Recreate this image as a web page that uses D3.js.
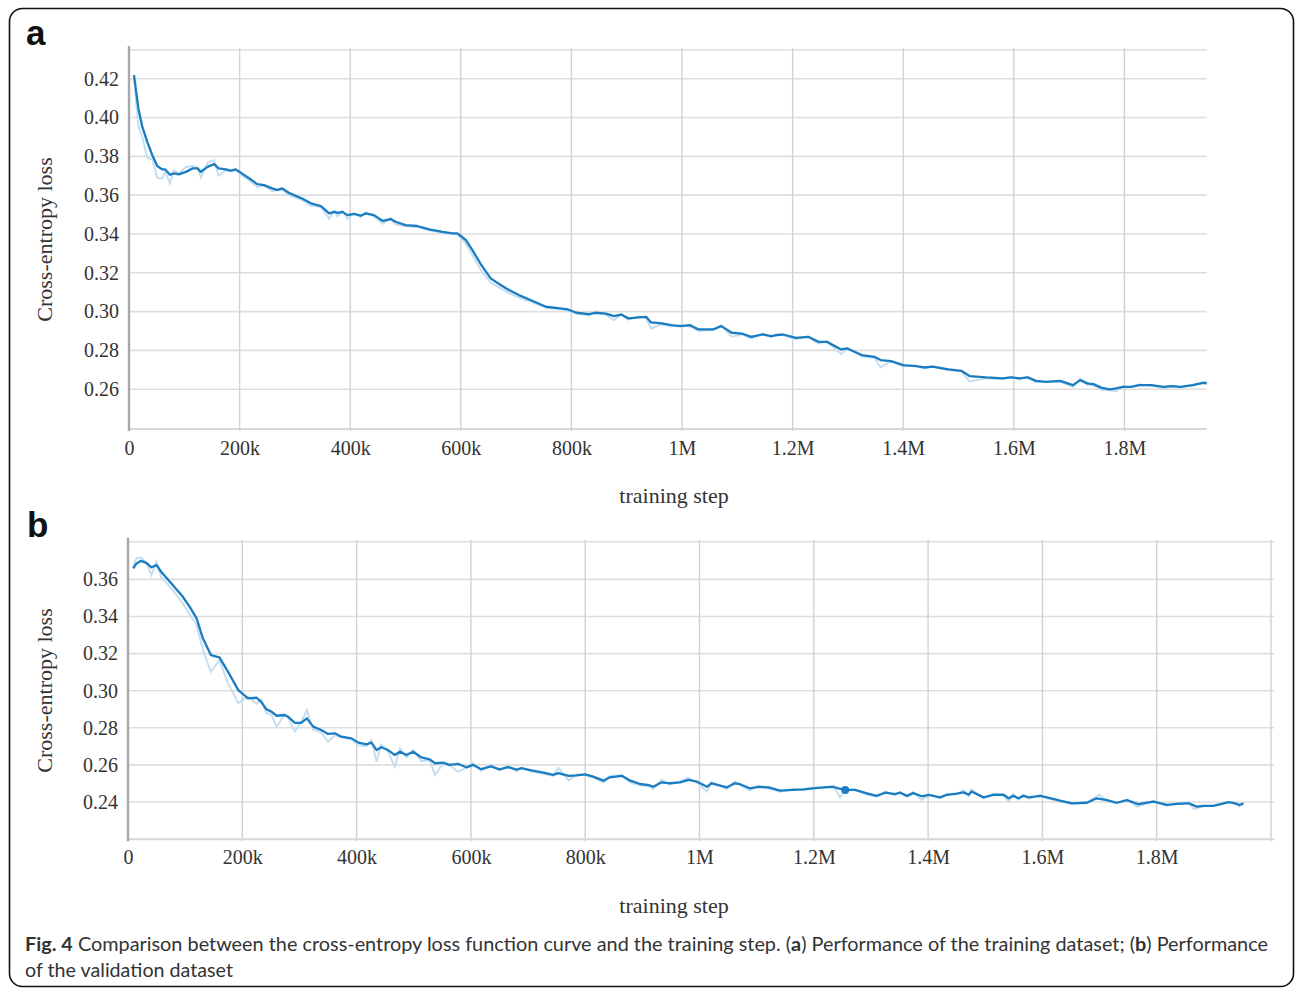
<!DOCTYPE html>
<html>
<head>
<meta charset="utf-8">
<script src="https://cdn.jsdelivr.net/npm/d3@7"></script>
<style>
body { margin: 0; background: #fff; }
svg text { font-family: "Liberation Serif", "Times New Roman", serif; fill: #333; }
.hgrid line { stroke: #dedede; stroke-width: 1.6; }
.vgrid line { stroke: #d2d2d2; stroke-width: 1.4; }
.tick text { font-size: 20px; }
.axis path, .axis line { display: none; }
.raw { fill: none; stroke: #c3ddf1; stroke-width: 1.9; }
.smooth { fill: none; stroke: #1b7dc1; stroke-width: 2.3; stroke-linejoin: round; }
.caption { font-family: "Lato", "Liberation Sans", sans-serif; font-size: 19px; fill: #333; }
</style>
</head>
<body>
<svg width="1295" height="989"></svg>
<script>
// training step in thousands, cross-entropy loss

const xTicks = [0, 200, 400, 600, 800, 1000, 1200, 1400, 1600, 1800];
const yTicksA = [0.26, 0.28, 0.30, 0.32, 0.34, 0.36, 0.38, 0.40, 0.42];
const yTicksB = [0.24, 0.26, 0.28, 0.30, 0.32, 0.34, 0.36];

// panel a: training dataset (smoothed curve)
const smoothA = [
[9,0.4219],[17,0.4047],[24,0.3953],[33,0.3875],[42,0.3807],[51,0.3750],[60,0.3733],[65,0.3733],[74,0.3705],[81,0.3712],[90,0.3707],[103,0.3720],[115,0.3738],[124,0.3738],[130,0.3720],[142,0.3746],[154,0.3760],[162,0.3738],[175,0.3733],[184,0.3726],[193,0.3733],[202,0.3716],[217,0.3687],[232,0.3657],[244,0.3652],[259,0.3635],[268,0.3626],[277,0.3635],[289,0.3612],[313,0.3583],[329,0.3558],[347,0.3544],[362,0.3506],[371,0.3514],[377,0.3509],[386,0.3514],[395,0.3497],[407,0.3503],[419,0.3494],[428,0.3506],[443,0.3497],[459,0.3467],[473,0.3477],[482,0.3463],[500,0.3446],[521,0.3441],[543,0.3424],[567,0.3411],[585,0.3403],[594,0.3403],[609,0.3369],[621,0.3317],[636,0.3245],[654,0.3171],[672,0.3137],[687,0.3111],[705,0.3085],[729,0.3056],[754,0.3025],[779,0.3017],
[794,0.3011],[809,0.2994],[832,0.2987],[843,0.2994],[862,0.2990],[877,0.2977],[890,0.2985],[903,0.2965],[922,0.2970],[935,0.2973],[944,0.2944],[963,0.2939],[981,0.2930],[996,0.2925],[1015,0.2930],[1030,0.2908],[1056,0.2908],[1071,0.2925],[1090,0.2891],[1108,0.2887],[1125,0.2870],[1146,0.2882],[1161,0.2874],[1172,0.2879],[1183,0.2882],[1206,0.2865],[1228,0.2870],[1247,0.2844],[1262,0.2844],[1288,0.2805],[1299,0.2810],[1325,0.2776],[1348,0.2767],[1359,0.2750],[1378,0.2745],[1400,0.2724],[1423,0.2719],[1438,0.2712],[1453,0.2716],[1482,0.2702],[1505,0.2695],[1520,0.2668],[1550,0.2661],[1580,0.2656],[1595,0.2661],[1610,0.2656],[1625,0.2661],[1640,0.2643],[1658,0.2638],[1684,0.2643],[1707,0.2621],[1720,0.2647],[1733,0.2630],[1744,0.2626],[1759,0.2607],[1774,0.2599],[1785,0.2604],[1797,0.2612],[1812,0.2612],[1827,0.2621],[1849,0.2621],[1871,0.2612],[1886,0.2616],[1901,0.2612],[1924,0.2621],[1942,0.2633],[1949,0.2630]
];

// panel a: raw values (faint curve)
const rawA = [
[9,0.4200],[17,0.3953],[24,0.3900],[33,0.3790],[42,0.3785],[51,0.3690],[60,0.3685],[65,0.3725],[74,0.3660],[81,0.3728],[90,0.3712],[103,0.3745],[115,0.3750],[124,0.3742],[130,0.3690],[142,0.3768],[154,0.3780],[162,0.3700],[175,0.3728],[184,0.3722],[193,0.3730],[202,0.3705],[217,0.3678],[232,0.3642],[244,0.3650],[259,0.3620],[268,0.3630],[277,0.3628],[289,0.3600],[313,0.3575],[329,0.3545],[347,0.3540],[362,0.3478],[371,0.3520],[377,0.3490],[386,0.3518],[395,0.3478],[407,0.3505],[419,0.3488],[428,0.3510],[443,0.3490],[459,0.3452],[473,0.3482],[482,0.3450],[500,0.3440],[521,0.3436],[543,0.3418],[567,0.3406],[585,0.3400],[594,0.3398],[609,0.3350],[621,0.3290],[636,0.3215],[654,0.3150],[672,0.3120],[687,0.3095],[705,0.3072],[729,0.3048],[754,0.3020],[779,0.3012],
[794,0.3005],[809,0.2990],[832,0.2980],[843,0.2998],[862,0.2985],[877,0.2955],[890,0.2988],[903,0.2958],[922,0.2975],[935,0.2968],[944,0.2912],[963,0.2935],[981,0.2924],[996,0.2930],[1015,0.2922],[1030,0.2900],[1056,0.2905],[1071,0.2930],[1090,0.2870],[1108,0.2882],[1125,0.2862],[1146,0.2886],[1161,0.2868],[1172,0.2884],[1183,0.2878],[1206,0.2858],[1228,0.2872],[1247,0.2835],[1262,0.2848],[1288,0.2780],[1299,0.2812],[1325,0.2770],[1348,0.2762],[1359,0.2712],[1378,0.2745],[1400,0.2718],[1423,0.2722],[1438,0.2705],[1453,0.2718],[1482,0.2698],[1505,0.2692],[1520,0.2640],[1550,0.2656],[1580,0.2652],[1595,0.2664],[1610,0.2650],[1625,0.2665],[1640,0.2636],[1658,0.2640],[1684,0.2638],[1707,0.2612],[1720,0.2655],[1733,0.2622],[1744,0.2620],[1759,0.2596],[1774,0.2594],[1785,0.2590],[1797,0.2615],[1812,0.2610],[1827,0.2625],[1849,0.2618],[1871,0.2605],[1886,0.2618],[1901,0.2608],[1924,0.2624],[1942,0.2636],[1949,0.2640]
];

// panel b: validation dataset (smoothed curve)
const smoothB = [
[9,0.3659],[15,0.3686],[23,0.3700],[32,0.3689],[41,0.3665],[50,0.3677],[58,0.3641],[76,0.3578],[96,0.3506],[108,0.3452],[120,0.3390],[131,0.3282],[145,0.3192],[160,0.3180],[175,0.3102],[193,0.3003],[210,0.2959],[225,0.2962],[233,0.2940],[242,0.2900],[251,0.2887],[260,0.2865],[274,0.2869],[280,0.2860],[292,0.2827],[303,0.2827],[313,0.2851],[324,0.2806],[338,0.2788],[350,0.2767],[362,0.2770],[373,0.2752],[391,0.2743],[403,0.2720],[417,0.2711],[426,0.2720],[435,0.2680],[443,0.2695],[455,0.2680],[467,0.2653],[476,0.2671],[487,0.2653],[499,0.2671],[513,0.2641],[528,0.2630],[537,0.2609],[551,0.2612],[563,0.2600],[578,0.2605],[592,0.2587],[604,0.2600],[618,0.2577],[635,0.2592],[650,0.2576],[665,0.2588],[680,0.2575],[688,0.2582],[706,0.2570],
[727,0.2558],[744,0.2546],[753,0.2556],[771,0.2541],[785,0.2544],[800,0.2549],[814,0.2537],[832,0.2515],[843,0.2533],[864,0.2541],[879,0.2515],[896,0.2497],[911,0.2491],[919,0.2482],[934,0.2506],[948,0.2501],[966,0.2506],[981,0.2519],[995,0.2510],[1013,0.2482],[1021,0.2501],[1048,0.2479],[1062,0.2501],[1071,0.2496],[1088,0.2474],[1103,0.2482],[1121,0.2479],[1141,0.2461],[1164,0.2465],[1182,0.2468],[1199,0.2474],[1217,0.2479],[1234,0.2482],[1243,0.2474],[1255,0.2465],[1272,0.2465],[1293,0.2447],[1310,0.2433],[1325,0.2450],[1342,0.2443],[1351,0.2450],[1363,0.2433],[1374,0.2448],[1389,0.2431],[1401,0.2439],[1421,0.2425],[1433,0.2439],[1450,0.2445],[1462,0.2452],[1471,0.2439],[1476,0.2457],[1497,0.2425],[1514,0.2439],[1532,0.2439],[1541,0.2420],[1549,0.2433],[1558,0.2420],[1567,0.2433],[1576,0.2425],[1596,0.2433],[1608,0.2425],[1631,0.2407],[1652,0.2393],[1678,0.2396],[1695,0.2420],[1713,0.2410],[1730,0.2396],[1748,0.2410],[1768,0.2388],[1794,0.2402],[1818,0.2384],[1835,0.2390],[1856,0.2393],[1870,0.2375],[1882,0.2379],[1899,0.2379],[1914,0.2390],[1926,0.2399],[1937,0.2393],[1945,0.2384],[1952,0.2393]
];

// panel b: raw values (faint curve)
const rawB = [
[9,0.3670],[15,0.3714],[23,0.3718],[32,0.3690],[41,0.3623],[50,0.3695],[58,0.3614],[76,0.3550],[96,0.3470],[108,0.3408],[120,0.3354],[131,0.3219],[145,0.3102],[160,0.3165],[175,0.3040],[193,0.2933],[210,0.2969],[225,0.2930],[233,0.2955],[242,0.2880],[251,0.2870],[260,0.2806],[274,0.2870],[280,0.2855],[292,0.2779],[303,0.2830],[313,0.2896],[324,0.2790],[338,0.2775],[350,0.2725],[362,0.2760],[373,0.2749],[391,0.2738],[403,0.2705],[417,0.2700],[426,0.2735],[435,0.2617],[443,0.2710],[455,0.2670],[467,0.2590],[476,0.2690],[487,0.2640],[499,0.2680],[513,0.2620],[528,0.2625],[537,0.2546],[551,0.2605],[563,0.2595],[578,0.2563],[592,0.2585],[604,0.2610],[618,0.2568],[635,0.2600],[650,0.2570],[665,0.2595],[680,0.2565],[688,0.2585],[706,0.2562],
[727,0.2552],[744,0.2540],[753,0.2585],[771,0.2515],[785,0.2548],[800,0.2545],[814,0.2532],[832,0.2505],[843,0.2540],[864,0.2545],[879,0.2505],[896,0.2490],[911,0.2485],[919,0.2470],[934,0.2520],[948,0.2495],[966,0.2512],[981,0.2530],[995,0.2505],[1013,0.2456],[1021,0.2508],[1048,0.2470],[1062,0.2512],[1071,0.2490],[1088,0.2462],[1103,0.2488],[1121,0.2472],[1141,0.2455],[1164,0.2470],[1182,0.2465],[1199,0.2480],[1217,0.2476],[1234,0.2488],[1246,0.2425],[1255,0.2462],[1272,0.2468],[1293,0.2440],[1310,0.2428],[1325,0.2458],[1342,0.2438],[1351,0.2455],[1363,0.2428],[1374,0.2455],[1389,0.2410],[1401,0.2442],[1421,0.2420],[1433,0.2445],[1450,0.2440],[1462,0.2465],[1471,0.2432],[1476,0.2468],[1497,0.2420],[1514,0.2442],[1532,0.2435],[1541,0.2402],[1549,0.2445],[1558,0.2412],[1567,0.2440],[1576,0.2418],[1596,0.2438],[1608,0.2420],[1631,0.2402],[1652,0.2390],[1678,0.2398],[1700,0.2439],[1713,0.2405],[1730,0.2392],[1748,0.2412],[1766,0.2375],[1794,0.2405],[1818,0.2380],[1835,0.2392],[1856,0.2395],[1865,0.2361],[1882,0.2376],[1899,0.2382],[1914,0.2392],[1926,0.2402],[1937,0.2396],[1945,0.2375],[1952,0.2395]
];

// highlighted point in panel b
const markB = [[1255, 0.2465]];

var svg = d3.select("svg");

// outer frame
svg.append("rect")
   .attr("x", 9.5).attr("y", 8.5).attr("width", 1284).attr("height", 978)
   .attr("rx", 13).attr("fill", "none").attr("stroke", "#111").attr("stroke-width", 1.6);

function panel(p) {
  var x = d3.scaleLinear().domain(p.xDomain).range([p.left, p.right]);
  var y = d3.scaleLinear().domain(p.yDomain).range([p.bottom, p.top]);
  var g = svg.append("g");

  // horizontal grid (ticks + top edge)
  g.append("g").attr("class", "hgrid")
    .selectAll("line").data(p.yTicks.concat([p.yDomain[1]])).enter().append("line")
    .attr("x1", p.left).attr("x2", p.right + p.gridExtra)
    .attr("y1", d => y(d)).attr("y2", d => y(d));

  // vertical grid
  g.append("g").attr("class", "vgrid")
    .selectAll("line").data(p.vLines).enter().append("line")
    .attr("x1", d => x(d)).attr("x2", d => x(d))
    .attr("y1", p.top - 2).attr("y2", p.bottom + 2);

  // bottom axis line
  g.append("line")
    .attr("x1", p.left).attr("x2", p.right + p.gridExtra)
    .attr("y1", p.bottom).attr("y2", p.bottom)
    .attr("stroke", "#d6d6d6").attr("stroke-width", 2);

  // left axis line
  g.append("line")
    .attr("x1", p.left).attr("x2", p.left)
    .attr("y1", p.top - 4).attr("y2", p.bottom + 2)
    .attr("stroke", "#a8a8a8").attr("stroke-width", 2.4);

  // tick labels
  g.append("g").attr("class", "axis")
    .attr("transform", "translate(0," + p.bottom + ")")
    .call(d3.axisBottom(x).tickValues(xTicks).tickSize(0).tickPadding(p.xPad)
      .tickFormat(d => d3.format("~s")(d * 1000)));

  g.append("g").attr("class", "axis")
    .attr("transform", "translate(" + p.left + ",0)")
    .call(d3.axisLeft(y).tickValues(p.yTicks).tickSize(0).tickPadding(10)
      .tickFormat(d3.format(".2f")));
  g.selectAll(".tick text").attr("fill", "#333");

  var line = d3.line().x(d => x(d[0])).y(d => y(d[1]));
  g.append("path").datum(p.raw).attr("class", "raw").attr("d", line);
  g.append("path").datum(p.smooth).attr("class", "smooth").attr("d", line);

  if (p.mark) {
    g.selectAll("circle").data(p.mark).enter().append("circle")
      .attr("cx", d => x(d[0])).attr("cy", d => y(d[1])).attr("r", 4)
      .attr("fill", "#1b7dc1");
  }

  // titles
  g.append("text").attr("transform", "translate(" + p.yTitleX + "," + (p.top + p.bottom) / 2 + ") rotate(-90)")
    .attr("text-anchor", "middle").attr("font-size", 22).text("Cross-entropy loss");
  g.append("text").attr("x", 674).attr("y", p.xTitleY)
    .attr("text-anchor", "middle").attr("font-size", 22).text("training step");

  g.append("text").attr("x", p.labelX).attr("y", p.labelY)
    .style("font-family", "'Liberation Sans', Arial, sans-serif")
    .attr("font-weight", "bold").attr("font-size", 35).style("fill", "#111")
    .text(p.label);
}

panel({
  label: "a", labelX: 26, labelY: 45,
  left: 129, right: 1206.7, top: 50, bottom: 429, gridExtra: 0, xPad: 12,
  xDomain: [0, 1948.8], yDomain: [0.2395, 0.4348],
  yTicks: yTicksA, vLines: xTicks.slice(1),
  smooth: smoothA, raw: rawA,
  yTitleX: 52, xTitleY: 503
});

panel({
  label: "b", labelX: 27, labelY: 537,
  left: 128, right: 1271, top: 541.7, bottom: 839.3, gridExtra: 3, xPad: 11,
  xDomain: [0, 2000], yDomain: [0.2199, 0.3803],
  yTicks: yTicksB, vLines: xTicks.slice(1).concat([2000]),
  smooth: smoothB, raw: rawB, mark: markB,
  yTitleX: 52, xTitleY: 913
});

// caption
var cap1 = svg.append("text").attr("class", "caption").attr("x", 25).attr("y", 951)
  .attr("textLength", 1243).attr("lengthAdjust", "spacingAndGlyphs");
cap1.append("tspan").attr("font-weight", "bold").text("Fig. 4");
cap1.append("tspan").text(" Comparison between the cross-entropy loss function curve and the training step. (");
cap1.append("tspan").attr("font-weight", "bold").text("a");
cap1.append("tspan").text(") Performance of the training dataset; (");
cap1.append("tspan").attr("font-weight", "bold").text("b");
cap1.append("tspan").text(") Performance");

svg.append("text").attr("class", "caption").attr("x", 25).attr("y", 977)
  .attr("textLength", 208).attr("lengthAdjust", "spacingAndGlyphs")
  .text("of the validation dataset");
</script>
</body>
</html>
